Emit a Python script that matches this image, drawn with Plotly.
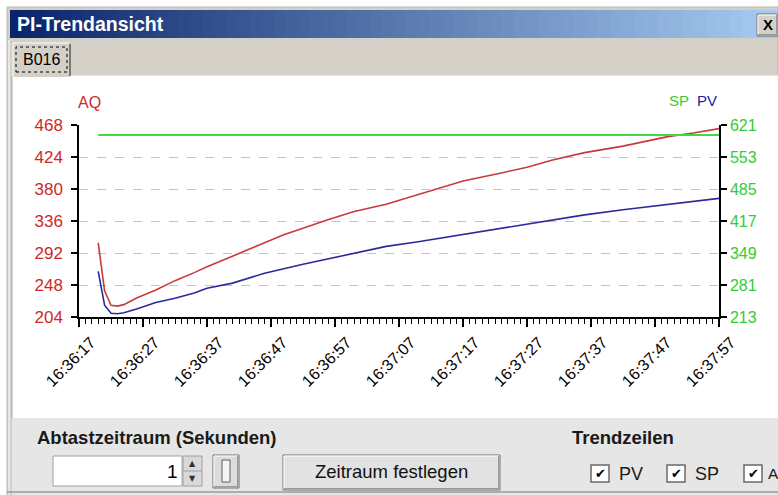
import plotly.graph_objects as go

W, H = 778, 495
BASE_DATE = "2000-01-01"

# ---------------- data ----------------
x_tick_labels = ["16:36:17", "16:36:27", "16:36:37", "16:36:47", "16:36:57", "16:37:07",
                 "16:37:17", "16:37:27", "16:37:37", "16:37:47", "16:37:57"]

aq_times = ["16:36:20", "16:36:21", "16:36:22", "16:36:23", "16:36:24", "16:36:26", "16:36:29",
            "16:36:32", "16:36:35", "16:36:37", "16:36:43", "16:36:49", "16:36:56", "16:37:00",
            "16:37:05", "16:37:12", "16:37:17", "16:37:23", "16:37:27", "16:37:31", "16:37:36",
            "16:37:42", "16:37:46", "16:37:49", "16:37:53", "16:37:57"]
aq_values = [306, 240, 220, 219, 221, 230, 241, 254, 265, 273, 295, 317, 338, 349, 359, 378,
             391, 402, 410, 420, 430, 439, 447, 452, 457, 463]

pv_times = ["16:36:20", "16:36:21", "16:36:22", "16:36:23", "16:36:24", "16:36:26", "16:36:29",
            "16:36:32", "16:36:35", "16:36:37", "16:36:41", "16:36:46", "16:36:52", "16:36:58",
            "16:37:05", "16:37:10", "16:37:15", "16:37:20", "16:37:26", "16:37:31", "16:37:36",
            "16:37:42", "16:37:47", "16:37:52", "16:37:57"]
pv_values = [310, 238, 221, 220, 222, 230, 244, 253, 264, 274, 285, 306, 325, 342, 363, 373,
             384, 395, 409, 419, 430, 441, 449, 458, 465]

sp_times = ["16:36:20", "16:37:57"]
sp_values = [600, 600]

aq_ticks = [204, 248, 292, 336, 380, 424, 468]
pvsp_ticks = [213, 281, 349, 417, 485, 553, 621]


def ts(t):
    return f"{BASE_DATE} {t}"


# ---------------- helpers for dialog chrome (pixel -> paper) ----------------
shapes = []
annotations = []


def rect(x0, y0, x1, y1, fill=None, line=None, lw=1, dash=None):
    shapes.append(dict(type="rect", xref="paper", yref="paper",
                       x0=x0 / W, x1=x1 / W, y0=1 - y1 / H, y1=1 - y0 / H,
                       fillcolor=fill or "rgba(0,0,0,0)",
                       line=dict(color=line or "rgba(0,0,0,0)", width=lw if line else 0,
                                 dash=dash or "solid"),
                       layer="below"))


def seg(x0, y0, x1, y1, color, lw=1, layer="below"):
    shapes.append(dict(type="line", xref="paper", yref="paper",
                       x0=x0 / W, x1=x1 / W, y0=1 - y0 / H, y1=1 - y1 / H,
                       line=dict(color=color, width=lw), layer=layer))


def text(x, y, s, size, color, anchor="left", family="Liberation Sans"):
    annotations.append(dict(xref="paper", yref="paper", x=x / W, y=1 - y / H, text=s,
                            showarrow=False, xanchor=anchor, yanchor="middle",
                            font=dict(family=family, size=size, color=color)))


def bevel(x0, y0, x1, y1, fill):
    rect(x0, y0, x1, y1, fill=fill, line="#6e6e6e", lw=1)
    seg(x0 + 1, y0 + 1, x1 - 1, y0 + 1, "#ffffff", 1)
    seg(x0 + 1, y0 + 1, x0 + 1, y1 - 1, "#ffffff", 1)
    seg(x0 + 1, y1 - 1.5, x1 - 1, y1 - 1.5, "#9a9a9a", 1)
    seg(x1 - 1.5, y0 + 1, x1 - 1.5, y1 - 1, "#9a9a9a", 1)


# window frame
rect(7, 7, 778, 495, fill="#d4d0c8", line="#b8b8b8")
# title bar gradient
c0 = (10, 36, 106)
c1 = (166, 202, 240)
N = 64
x_start, x_end = 10, 778
for i in range(N):
    f = i / (N - 1)
    col = tuple(round(c0[k] + (c1[k] - c0[k]) * f) for k in range(3))
    xa = x_start + (x_end - x_start) * i / N
    xb = x_start + (x_end - x_start) * (i + 1) / N + 0.6
    rect(xa, 10, xb, 38, fill="rgb(%d,%d,%d)" % col)
text(15, 24.5, "<b>PI-Trendansicht</b>", 19.5, "#ffffff")
# close button
bevel(757, 14, 778, 36, "#d4d0c8")
text(768, 25, "<b>X</b>", 15, "#000000", anchor="center")

# tab strip + chart panel
rect(12, 76, 778, 418, fill="#ffffff")
seg(12, 76, 778, 76, "#ffffff", 1)
seg(12, 76, 12, 418, "#a8a8a8", 1)
seg(9, 40, 9, 495, "#ffffff", 1)
# tab
rect(13, 43, 70, 77, fill="#d4d0c8")
seg(13, 43, 69, 43, "#ffffff", 1)
seg(13, 43, 13, 77, "#ffffff", 1)
seg(70, 44, 70, 76, "#404040", 1.2)
rect(16, 47, 67, 72, line="#000000", lw=1, dash="dot")
text(41.5, 59.5, "B016", 16, "#000000", anchor="center")

# bottom panel
rect(12, 418, 778, 495, fill="#e6e6e6")
seg(7, 492, 778, 492, "#9a9a9a", 1.5)
text(35, 437, "<b>Abtastzeitraum (Sekunden)</b>", 18.5, "#1a1a1a")
text(570, 437, "<b>Trendzeilen</b>", 18.5, "#1a1a1a")
# numeric input with spinner
rect(53, 456, 182, 486, fill="#ffffff", line="#a0a0a0")
text(180, 471, "1", 19, "#000000", anchor="right")
rect(183, 456, 202, 486, fill="#d9d9d9", line="#a0a0a0")
seg(183, 471, 202, 471, "#a0a0a0", 1)
text(192.5, 463.5, "▲", 8, "#303030", anchor="center", family="DejaVu Sans")
text(192.5, 478.5, "▼", 8, "#303030", anchor="center", family="DejaVu Sans")
# small slider-like button
bevel(213, 455, 239, 488, "#dcdcdc")
rect(222, 460, 230, 482, fill="#f4f4f4", line="#606060")
# main button
bevel(283, 455, 500, 490, "#e2e2e2")
text(391.5, 471, "Zeitraum festlegen", 18.5, "#111111", anchor="center")
# checkboxes
for bx, lab in [(591, "PV"), (667, "SP")]:
    rect(bx, 465, bx + 18, 482, fill="#ffffff", line="#6a6a6a", lw=1.5)
    text(bx + 9, 473.5, "<b>✔</b>", 13, "#000000", anchor="center", family="DejaVu Sans")
    text(bx + 26, 473.5, lab, 18, "#1a1a1a")
rect(744, 465, 762, 482, fill="#ffffff", line="#6a6a6a", lw=1.5)
text(753, 473.5, "<b>✔</b>", 13, "#000000", anchor="center", family="DejaVu Sans")
text(766, 473.5, "A", 15.5, "#1a1a1a")

# series captions
text(89.5, 102, "AQ", 16, "#cc2a2a", anchor="center")
text(679, 101, "SP", 15, "#33cc33", anchor="center")
text(707, 101, "PV", 15, "#2020a0", anchor="center")

# ---------------- traces ----------------
fig = go.Figure()
fig.add_trace(go.Scatter(x=[ts(t) for t in aq_times], y=aq_values, mode="lines", name="AQ",
                         line=dict(color="#c83a3a", width=1.6), yaxis="y"))
fig.add_trace(go.Scatter(x=[ts(t) for t in sp_times], y=sp_values, mode="lines", name="SP",
                         line=dict(color="#44d844", width=2), yaxis="y2"))
fig.add_trace(go.Scatter(x=[ts(t) for t in pv_times], y=pv_values, mode="lines", name="PV",
                         line=dict(color="#2a2a9c", width=1.6), yaxis="y2"))

fig.update_layout(
    width=W, height=H, autosize=False,
    margin=dict(l=0, r=0, t=0, b=0, pad=0, autoexpand=False),
    paper_bgcolor="#ffffff", plot_bgcolor="rgba(0,0,0,0)",
    showlegend=False,
    shapes=shapes, annotations=annotations,
    xaxis=dict(
        type="date", domain=[79 / W, 719 / W], anchor="y", automargin=False,
        range=[ts(x_tick_labels[0]), ts(x_tick_labels[-1])],
        tickmode="array", tickvals=[ts(t) for t in x_tick_labels], ticktext=x_tick_labels,
        tickangle=-45, tickfont=dict(family="Liberation Sans", size=16, color="#000000"),
        ticklabelshift=12,
        showline=True, linecolor="#000000", linewidth=1.5,
        ticks="outside", ticklen=8, tickwidth=1.5, tickcolor="#000000",
        minor=dict(tickmode="linear", tick0=ts(x_tick_labels[0]), dtick=1000,
                   ticks="outside", ticklen=5, tickwidth=1, tickcolor="#000000"),
        showgrid=False, zeroline=False,
    ),
    yaxis=dict(
        domain=[(H - 317) / H, (H - 125) / H], anchor="x", automargin=False,
        range=[aq_ticks[0], aq_ticks[-1]], tickmode="array", tickvals=aq_ticks,
        tickfont=dict(family="Liberation Sans", size=17, color="#d02828"),
        ticklabelstandoff=5,
        showline=True, linecolor="#000000", linewidth=1.5,
        ticks="outside", ticklen=6, tickwidth=1.5, tickcolor="#000000",
        showgrid=True, gridcolor="#c4c4c4", griddash="dash", gridwidth=1,
        zeroline=False,
    ),
    yaxis2=dict(
        overlaying="y", side="right", anchor="x", automargin=False,
        range=[pvsp_ticks[0], pvsp_ticks[-1]], tickmode="array", tickvals=pvsp_ticks,
        tickfont=dict(family="Liberation Sans", size=16, color="#33cc33"),
        showline=True, linecolor="#000000", linewidth=1.5,
        ticks="outside", ticklen=6, tickwidth=1.5, tickcolor="#000000",
        showgrid=False, zeroline=False,
    ),
)

fig.write_html("out.html", config={"displayModeBar": False},
               post_script="document.body.style.margin='0px';document.body.style.padding='0px';")
